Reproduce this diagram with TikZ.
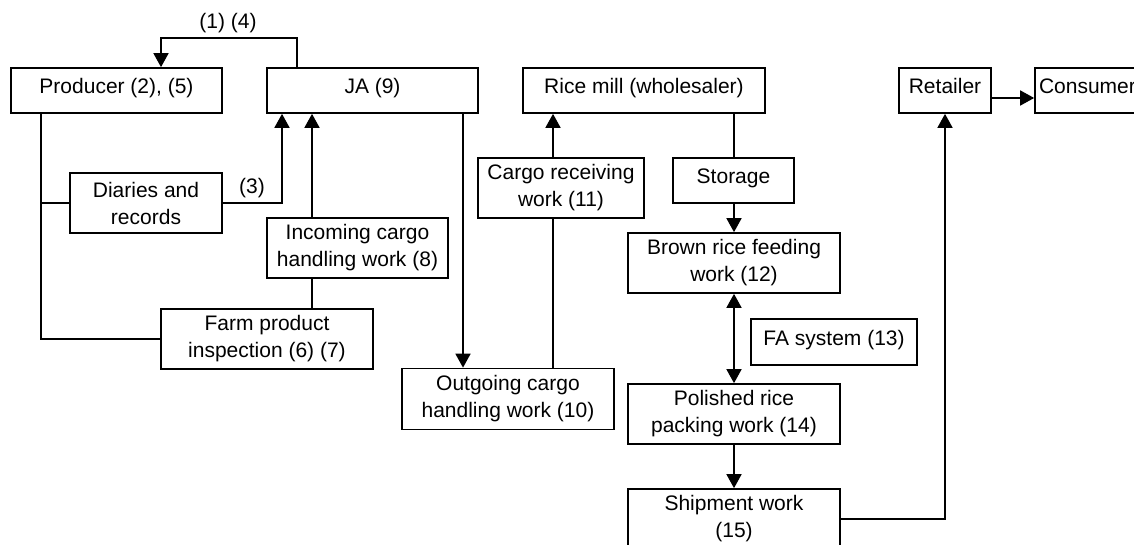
\documentclass[tikz,border=0pt]{standalone}
\usepackage{fontspec}
\setmainfont{Liberation Sans}
\usetikzlibrary{arrows.meta}
\begin{document}
\begin{tikzpicture}[x=1pt,y=-1pt,
  box/.style={draw, line width=1.7pt, inner sep=0pt, align=center,
              font=\fontsize{21}{27}\selectfont},
  oneline/.style={text height=14pt, text depth=8pt},
  link/.style={line width=1.7pt},
  arr/.style={link, -{Triangle[width=15pt,length=14pt]}},
  darr/.style={link, {Triangle[width=15pt,length=14pt]}-{Triangle[width=15pt,length=14pt]}},
  lbl/.style={inner sep=0pt, font=\fontsize{21}{27}\selectfont}]
\useasboundingbox (0,0) rectangle (1134,545);
\clip (0,0) rectangle (1134,545);

% boxes
\node[box, oneline, minimum width=211pt, minimum height=45pt] (prod) at (116.5,90.5) {Producer (2), (5)};
\node[box, oneline, minimum width=211pt, minimum height=45pt] (ja) at (372.5,90.5) {JA (9)};
\node[box, oneline, minimum width=242pt, minimum height=45pt] (mill) at (644,90.5) {Rice mill (wholesaler)};
\node[box, oneline, minimum width=92pt, minimum height=45pt] (ret) at (945,90.5) {Retailer};
\node[box, oneline, minimum width=110pt, minimum height=45pt, text width=102pt, align=left] (cons) at (1090,90.5) {Consumer};

\node[box, minimum width=152pt, minimum height=60pt] (diar) at (146,203) {Diaries and\\records};
\node[box, minimum width=181pt, minimum height=60pt] (inc) at (357.5,248) {Incoming cargo\\handling work (8)};
\node[box, minimum width=212pt, minimum height=60pt] (farm) at (267,339) {Farm product\\inspection (6) (7)};
\node[box, minimum width=212pt, minimum height=61pt] (out) at (508,399) {Outgoing cargo\\handling work (10)};
\node[box, minimum width=166pt, minimum height=60pt] (recv) at (561,188) {Cargo receiving\\work (11)};
\node[box, oneline, minimum width=121pt, minimum height=45pt] (stor) at (733.5,180.5) {Storage};
\node[box, minimum width=212pt, minimum height=60pt] (brown) at (734,263) {Brown rice feeding\\work (12)};
\node[box, oneline, minimum width=166pt, minimum height=46pt] (fa) at (834,342) {FA system (13)};
\node[box, minimum width=212pt, minimum height=60pt] (pol) at (734,414) {Polished rice\\packing work (14)};
\node[box, minimum width=212pt, minimum height=60pt] (ship) at (734,519) {Shipment work\\(15)};

% bend points
\coordinate (top1) at (297,38);
\coordinate (top2) at (161,38);
\coordinate (pl) at (41,339);
\coordinate (dr) at (282,203);
\coordinate (ix) at (312,0);
\coordinate (jx) at (463,0);
\coordinate (rx) at (553,0);
\coordinate (sx) at (734,0);
\coordinate (cy) at (0,98);

% connectors
\draw[arr] (ja.north -| top1) -- (top1) -- (top2) -- (top2 |- prod.north);
\node[lbl] (l14) at (228,23) {(1) (4)};

\draw[link] (prod.south -| pl) -- (pl) -- (farm.west);
\draw[link] (diar.west) -- (diar.west -| pl);
\draw[arr] (diar.east) -- (dr) -- (dr |- ja.south);
\node[lbl] (l3) at (252,188) {(3)};

\draw[arr] (inc.north -| ix) -- (ja.south -| ix);
\draw[link] (farm.north -| ix) -- (inc.south -| ix);

\draw[arr] (ja.south -| jx) -- (out.north -| jx);
\draw[link] (out.north -| rx) -- (recv.south -| rx);
\draw[arr] (recv.north -| rx) -- (mill.south -| rx);

\draw[link] (mill.south -| sx) -- (stor.north -| sx);
\draw[arr] (stor.south -| sx) -- (brown.north -| sx);
\draw[darr] (brown.south -| sx) -- (pol.north -| sx);
\draw[arr] (pol.south -| sx) -- (ship.north -| sx);

\draw[arr] (ship.east) -| (ret.south);
\draw[arr] (ret.east |- cy) -- (cons.west |- cy);
\end{tikzpicture}
\end{document}
